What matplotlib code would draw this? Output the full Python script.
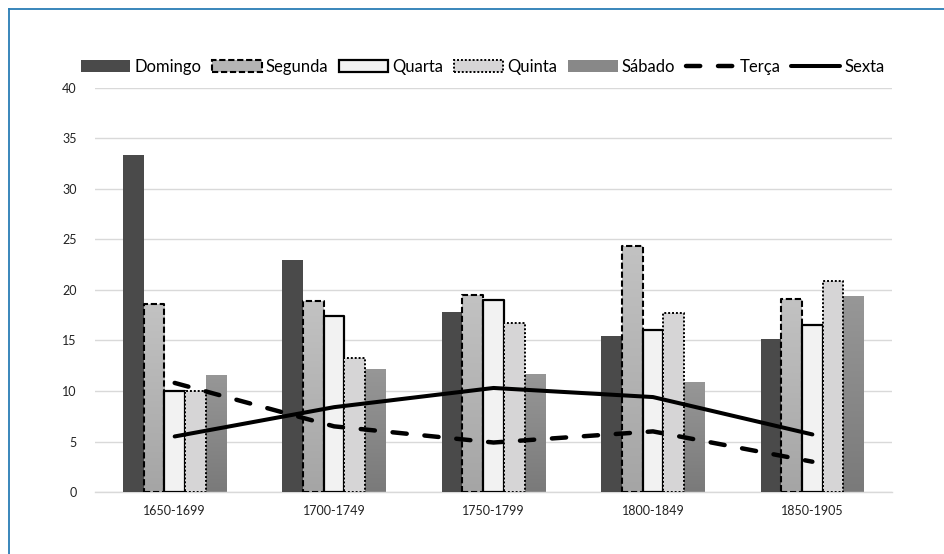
import matplotlib
matplotlib.use("Agg")

import numpy as np
import matplotlib.pyplot as plt
from matplotlib.lines import Line2D
from matplotlib.colors import LinearSegmentedColormap

plt.rcParams['font.family'] = ['Lato', 'DejaVu Sans']

# Dados
periodos = ["1650-1699", "1700-1749", "1750-1799", "1800-1849", "1850-1905"]
domingo = [33.4, 23.0, 17.8, 15.4, 15.1]
segunda = [18.6, 18.9, 19.5, 24.4, 19.1]
quarta = [10.0, 17.4, 19.0, 16.0, 16.5]
quinta = [10.0, 13.3, 16.7, 17.7, 20.9]
sabado = [11.6, 12.2, 11.7, 10.9, 19.4]
terca = [10.8, 6.5, 4.9, 6.0, 3.0]
sexta = [5.5, 8.4, 10.3, 9.4, 5.7]

fig = plt.figure(figsize=(9.44, 5.54), dpi=100)
ax = fig.add_axes([0.1006, 0.1119, 0.8444, 0.7293])

x = np.arange(len(periodos))
largura = 0.13

# (nome, valores, cor, borda, espessura, estilo da borda, gradiente)
barras = [
    ("Domingo", domingo, "#4a4a4a", "none", 0, "solid", None),
    ("Segunda", segunda, "#b4b4b4", "black", 1.5, (0, (3, 1.3)), ("#a5a5a5", "#c2c2c2")),
    ("Quarta", quarta, "#f2f2f2", "black", 1.6, "solid", None),
    ("Quinta", quinta, "#d6d5d6", "black", 1.4, (0, (1, 1)), None),
    ("Sábado", sabado, "#888888", "none", 0, "solid", ("#7a7a7a", "#979797")),
]

handles = []
for i, (nome, valores, cor, borda, lw, ls, grad) in enumerate(barras):
    desloc = (i - 2) * largura
    b = ax.bar(x + desloc, valores, largura, label=nome, color=cor, edgecolor=borda,
               linewidth=lw, linestyle=ls, joinstyle="round", zorder=3)
    if grad is not None:
        cmap = LinearSegmentedColormap.from_list(nome, list(grad))
        for ret in b:
            ret.set_facecolor("none")
            x0 = ret.get_x()
            h = ret.get_height()
            img = ax.imshow(np.linspace(0, 1, 64).reshape(-1, 1), cmap=cmap, origin="lower",
                            extent=[x0, x0 + largura, 0, h], aspect="auto", zorder=2.5,
                            interpolation="bilinear")
            img.set_clip_path(ret)
    handles.append(b)

l_terca, = ax.plot(x, terca, color="black", linewidth=3.2, linestyle=(0, (3.2, 4.0)),
                   dash_capstyle="round", label="Terça", zorder=4)
l_sexta, = ax.plot(x, sexta, color="black", linewidth=2.9, solid_capstyle="round",
                   label="Sexta", zorder=4)

ax.set_xlim(-0.5, len(periodos) - 0.5)
ax.set_ylim(0, 40)
ax.set_yticks(np.arange(0, 41, 5))
ax.set_xticks(x)
ax.set_xticklabels(periodos)
ax.yaxis.grid(True, color="#d9d9d9", linewidth=1.0, zorder=0)
ax.set_axisbelow(True)
for lado in ["top", "right", "left"]:
    ax.spines[lado].set_visible(False)
ax.spines["bottom"].set_color("#d9d9d9")
ax.spines["bottom"].set_linewidth(1.0)
ax.tick_params(axis="both", length=0, labelsize=9, colors="#222222")
ax.tick_params(axis="y", pad=13)
ax.tick_params(axis="x", pad=9)

# patches do legendo com a cor média do gradiente
leg = fig.legend(handles=handles + [l_terca, l_sexta],
                 labels=["Domingo", "Segunda", "Quarta", "Quinta", "Sábado", "Terça", "Sexta"],
                 loc="center", bbox_to_anchor=(0.5117, 0.879), ncol=7, frameon=False,
                 fontsize=12, handlelength=2.95, handletextpad=0.25, columnspacing=0.65)
for p, cor in zip(leg.get_patches(), ["#4a4a4a", "#b4b4b4", "#f2f2f2", "#d6d5d6", "#888888"]):
    p.set_facecolor(cor)

# borda azul no topo e à esquerda
fig.add_artist(Line2D([0.0095, 0.0095], [0.0, 0.984], transform=fig.transFigure,
                      color="#2a7db5", linewidth=1.3))
fig.add_artist(Line2D([0.0095, 1.0], [0.984, 0.984], transform=fig.transFigure,
                      color="#2a7db5", linewidth=1.3))

fig.savefig("out.png", dpi=100)
